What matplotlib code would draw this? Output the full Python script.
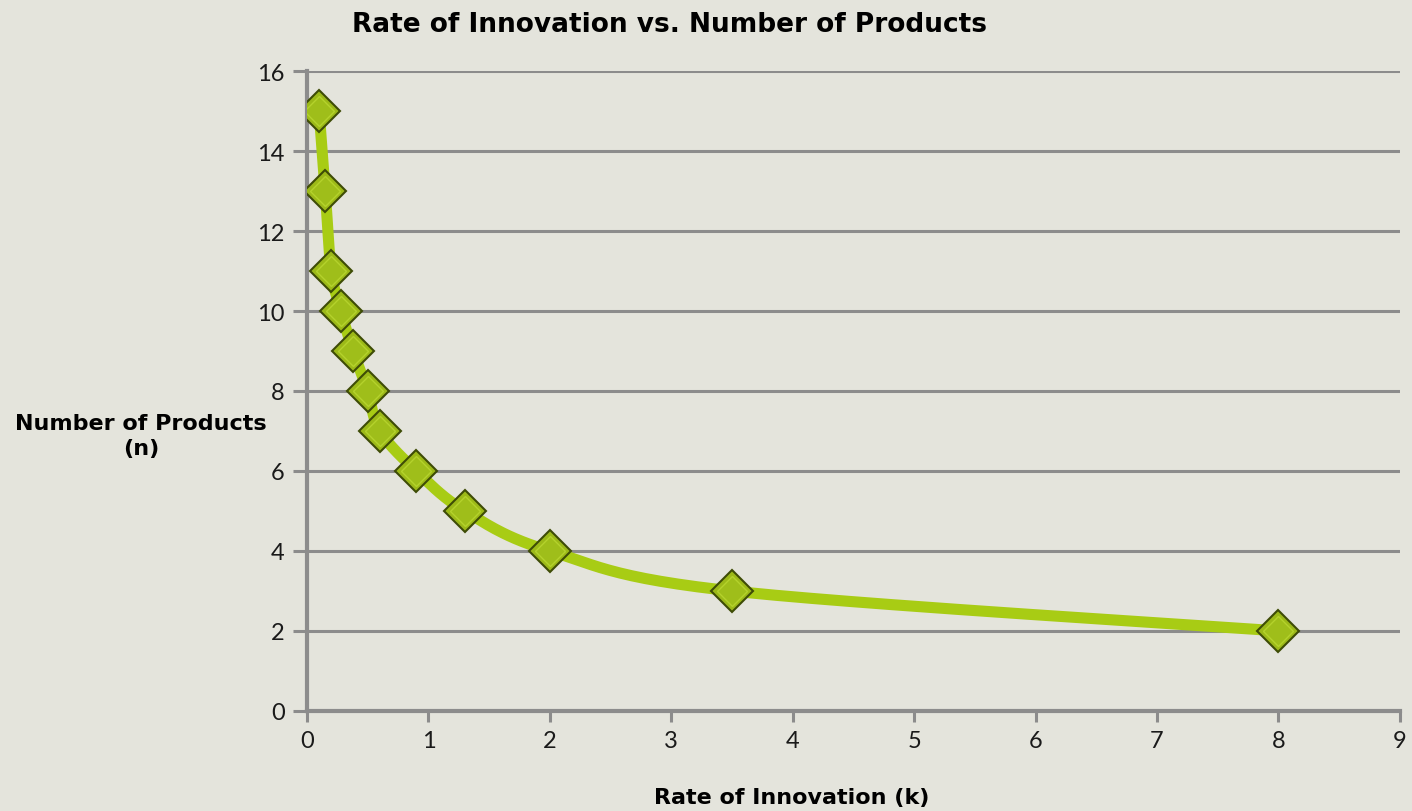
import matplotlib
matplotlib.use("Agg")
import matplotlib.pyplot as plt
import numpy as np

# data
rate_k = [0.1, 0.15, 0.2, 0.28, 0.38, 0.5, 0.6, 0.9, 1.3, 2.0, 3.5, 8.0]
products_n = [15, 13, 11, 10, 9, 8, 7, 6, 5, 4, 3, 2]

bg = "#e4e4dc"
line_col = "#a8cc14"
grid_col = "#8c8c8c"

plt.rcParams['font.family'] = ['Lato', 'DejaVu Sans']


def smooth(x, y, steps=30):
    # Catmull-Rom style smoothing, like a spreadsheet "smoothed line"
    x = np.asarray(x, float)
    y = np.asarray(y, float)
    px = np.concatenate([[x[0]], x, [x[-1]]])
    py = np.concatenate([[y[0]], y, [y[-1]]])
    xs, ys = [], []
    t = np.linspace(0, 1, steps)
    for i in range(1, len(px) - 2):
        for p, out in ((px, xs), (py, ys)):
            p0, p1, p2, p3 = p[i - 1], p[i], p[i + 1], p[i + 2]
            m1 = (p2 - p0) / 6
            m2 = (p3 - p1) / 6
            c = (p1 * (1 - t) ** 3 + 3 * (p1 + m1) * t * (1 - t) ** 2
                 + 3 * (p2 - m2) * t ** 2 * (1 - t) + p2 * t ** 3)
            out.extend(c)
    return np.array(xs), np.array(ys)


fig = plt.figure(figsize=(14.12, 8.12), dpi=100, facecolor=bg)
ax = fig.add_axes([0.2174, 0.1232, 0.774, 0.7881], facecolor=bg)

sx, sy = smooth(rate_k, products_n)
ax.plot(sx, sy, color=line_col, lw=8, solid_capstyle='round', zorder=3)
ax.plot(rate_k, products_n, ls='none', marker='D', ms=21,
        mfc="#9cb918", mec="#3e4c06", mew=1.5, zorder=4)
ax.plot(rate_k, products_n, ls='none', marker='D', ms=15,
        mfc="#9fbe1a", mec="#b4d22c", mew=1, zorder=5)

ax.set_xlim(0, 9)
ax.set_ylim(0, 16)
ax.set_xticks(range(0, 10))
ax.set_yticks(range(0, 17, 2))
ax.grid(axis='y', color=grid_col, lw=2.2)
ax.set_axisbelow(True)
for s in ['top', 'right']:
    ax.spines[s].set_visible(False)
for s in ['left', 'bottom']:
    ax.spines[s].set_color(grid_col)
    ax.spines[s].set_linewidth(3)
ax.tick_params(axis='both', colors=grid_col, width=2.2, length=8,
               labelsize=17, labelcolor='#1a1a1a', pad=6)
ax.tick_params(axis='y', length=10)

bold = ['DejaVu Sans']
fig.text(0.4745, 0.969, "Rate of Innovation vs. Number of Products",
         ha='center', va='center', fontsize=19, fontweight='bold', family=bold)
fig.text(0.561, 0.017, "Rate of Innovation (k)", ha='center', va='center',
         fontsize=16, fontweight='bold', family=bold)
fig.text(0.1, 0.462, "Number of Products\n(n)", ha='center', va='center',
         fontsize=16, fontweight='bold', family=bold, linespacing=1.3)

fig.savefig("out.png", dpi=100, facecolor=bg)
